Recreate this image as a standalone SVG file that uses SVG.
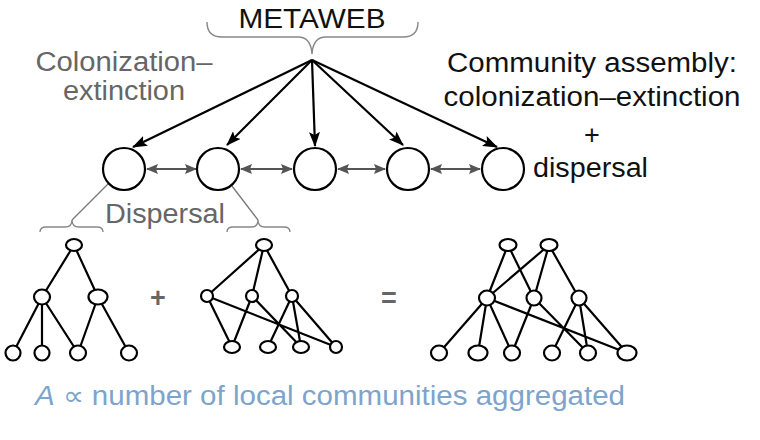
<svg xmlns="http://www.w3.org/2000/svg" width="760" height="440" viewBox="0 0 760 440">
<style>
.t{font-family:"Liberation Sans",Arial,sans-serif;font-size:27px}
.blk{fill:#111}
.gry{fill:#666}
.blue{fill:#7da4cc}
.arw{stroke:#000;stroke-width:2.2;fill:none}
.dbl{stroke:#555;stroke-width:2.2;fill:none}
.brace{stroke:#888;stroke-width:1.4;fill:none}
.lnk{stroke:#777;stroke-width:1.3;fill:none}
.big{fill:#fff;stroke:#000;stroke-width:2.2}
.n{fill:#fff;stroke:#000;stroke-width:2.2}
.e{stroke:#000;stroke-width:2.2;fill:none}
</style>
<defs>
<marker id="ah" viewBox="0 0 15 11" refX="14" refY="5.5" markerWidth="15" markerHeight="11" markerUnits="userSpaceOnUse" orient="auto">
<path d="M0,0 L15,5.5 L0,11 L3,5.5 z" fill="#000"/>
</marker>
<marker id="gh" viewBox="0 0 12 10" refX="11" refY="5" markerWidth="12" markerHeight="10" markerUnits="userSpaceOnUse" orient="auto-start-reverse">
<path d="M0,0 L12,5 L0,10 L2,5 z" fill="#555"/>
</marker>
</defs>

<g id="labels">
<text class="t blk" x="312" y="28" text-anchor="middle" textLength="147" lengthAdjust="spacingAndGlyphs">METAWEB</text>
<text class="t gry" x="124" y="71" text-anchor="middle" textLength="177" lengthAdjust="spacingAndGlyphs">Colonization–</text>
<text class="t gry" x="124" y="100" text-anchor="middle" textLength="122" lengthAdjust="spacingAndGlyphs">extinction</text>
<text class="t blk" x="592" y="72" text-anchor="middle" textLength="290" lengthAdjust="spacingAndGlyphs">Community assembly:</text>
<text class="t blk" x="592" y="106" text-anchor="middle" textLength="297" lengthAdjust="spacingAndGlyphs">colonization–extinction</text>
<text class="t blk" x="592" y="144" text-anchor="middle">+</text>
<text class="t blk" x="533" y="177" textLength="115" lengthAdjust="spacingAndGlyphs">dispersal</text>
<text class="t gry" x="105" y="223" textLength="120" lengthAdjust="spacingAndGlyphs">Dispersal</text>
<text class="t gry" x="158" y="307" text-anchor="middle" font-weight="bold">+</text>
<text class="t gry" x="389" y="307" text-anchor="middle" font-weight="bold">=</text>
<text class="t blue" x="35" y="405" textLength="590" lengthAdjust="spacingAndGlyphs"><tspan font-style="italic">A</tspan> ∝ number of local communities aggregated</text>
</g>

<g id="braces">
<path class="brace" d="M207,22 Q207,37 222,37 L298,37 Q311,37 312,54 Q313,37 326,37 L403,37 Q418,37 418,22"/>
<path class="brace" d="M40,232 Q40,227 46,227 L65,227 Q72,227 72,220 Q72,227 79,227 L97,227 Q103,227 103,232"/>
<path class="brace" d="M227,232 Q227,227 233,227 L251,227 Q258,227 258,220 Q258,227 265,227 L284,227 Q290,227 290,232"/>
<path class="lnk" d="M108,184 L72,220"/>
<path class="lnk" d="M232,186 L258,220"/>
</g>

<g id="connectors">
<path class="arw" marker-end="url(#ah)" d="M312,60 L133,147"/>
<path class="arw" marker-end="url(#ah)" d="M312,60 L227,145"/>
<path class="arw" marker-end="url(#ah)" d="M312,60 L315,146"/>
<path class="arw" marker-end="url(#ah)" d="M312,60 L403,145"/>
<path class="arw" marker-end="url(#ah)" d="M312,60 L497,147"/>
<path class="dbl" marker-start="url(#gh)" marker-end="url(#gh)" d="M147,169 L196,169"/>
<path class="dbl" marker-start="url(#gh)" marker-end="url(#gh)" d="M241,169 L292,169"/>
<path class="dbl" marker-start="url(#gh)" marker-end="url(#gh)" d="M338,169 L385,169"/>
<path class="dbl" marker-start="url(#gh)" marker-end="url(#gh)" d="M431,169 L480,169"/>
</g>

<g id="c1"><circle class="big" cx="124" cy="169" r="21"/></g>
<g id="c2"><circle class="big" cx="218" cy="169" r="21"/></g>
<g id="c3"><circle class="big" cx="315" cy="169" r="21"/></g>
<g id="c4"><circle class="big" cx="408" cy="169" r="21"/></g>
<g id="c5"><circle class="big" cx="503" cy="169" r="21"/></g>

<g id="web1">
<path class="e" d="M74,245 L42,297 M74,245 L98,297 M42,297 L13,353 M42,297 L42,353 M42,297 L78,353 M98,297 L78,353 M98,297 L129,353"/>
<ellipse class="n" cx="74" cy="245" rx="8" ry="6"/>
<ellipse class="n" cx="42" cy="297" rx="8" ry="7.5"/>
<ellipse class="n" cx="98" cy="297" rx="9.5" ry="7.5"/>
<ellipse class="n" cx="13" cy="353" rx="7.5" ry="7.5"/>
<ellipse class="n" cx="42" cy="353" rx="7.5" ry="7.5"/>
<ellipse class="n" cx="78" cy="353" rx="8" ry="7.5"/>
<ellipse class="n" cx="129" cy="353" rx="8" ry="7.5"/>
</g>

<g id="web2">
<path class="e" d="M264,245 L207,296 M264,245 L252,296 M264,245 L292,296 M207,296 L232,347 M207,296 L336,347 M252,296 L232,347 M252,296 L301,347 M292,296 L268,347 M292,296 L301,347 M292,296 L336,347"/>
<ellipse class="n" cx="264" cy="245" rx="8" ry="6"/>
<ellipse class="n" cx="207" cy="296" rx="6" ry="6"/>
<ellipse class="n" cx="252" cy="296" rx="6" ry="6"/>
<ellipse class="n" cx="292" cy="296" rx="6" ry="6"/>
<ellipse class="n" cx="232" cy="347" rx="8" ry="6"/>
<ellipse class="n" cx="268" cy="347" rx="8" ry="6"/>
<ellipse class="n" cx="301" cy="347" rx="8" ry="6"/>
<ellipse class="n" cx="336" cy="347" rx="6" ry="6"/>
</g>

<g id="web3">
<path class="e" d="M508,245 L487,298 M508,245 L534,298 M549,245 L487,298 M549,245 L534,298 M549,245 L579,298 M487,298 L439,353 M487,298 L478,353 M487,298 L512,353 M487,298 L627,353 M534,298 L512,353 M534,298 L588,353 M579,298 L552,353 M579,298 L588,353 M579,298 L627,353"/>
<ellipse class="n" cx="508" cy="245" rx="8.5" ry="6"/>
<ellipse class="n" cx="549" cy="245" rx="8.5" ry="6"/>
<ellipse class="n" cx="487" cy="298" rx="8" ry="7.5"/>
<ellipse class="n" cx="534" cy="298" rx="7.5" ry="7.5"/>
<ellipse class="n" cx="579" cy="298" rx="7.5" ry="7.5"/>
<ellipse class="n" cx="439" cy="353" rx="8" ry="7.5"/>
<ellipse class="n" cx="478" cy="353" rx="9.5" ry="7.5"/>
<ellipse class="n" cx="512" cy="353" rx="8" ry="7.5"/>
<ellipse class="n" cx="552" cy="353" rx="8" ry="7.5"/>
<ellipse class="n" cx="588" cy="353" rx="8" ry="7.5"/>
<ellipse class="n" cx="627" cy="353" rx="9.5" ry="7.5"/>
</g>
</svg>
